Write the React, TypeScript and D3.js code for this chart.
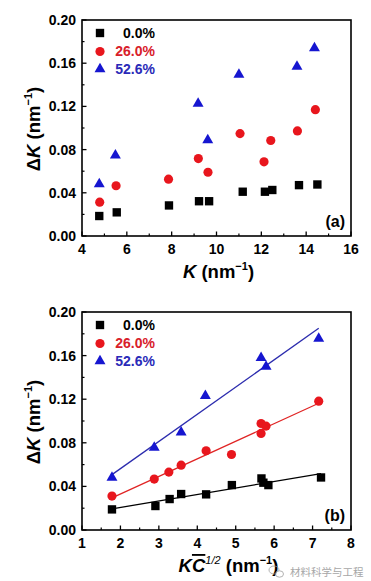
import React from "react";
import * as d3 from "d3";

// ---------- Data ----------
const seriesNames = ["0.0%", "26.0%", "52.6%"];

// Panel (a): ΔK vs K
const kBlack = [4.77, 5.55, 7.88, 9.22, 9.67, 11.17, 12.16, 12.49, 13.68, 14.5];
const dkBlackA = [0.0185, 0.0219, 0.0283, 0.0322, 0.0322, 0.041, 0.041, 0.0426, 0.0471, 0.0477];
const kRed = [4.79, 5.52, 7.86, 9.19, 9.62, 11.05, 12.12, 12.42, 13.61, 14.41];
const dkRedA = [0.0313, 0.0465, 0.0526, 0.0717, 0.059, 0.0948, 0.0687, 0.0884, 0.0973, 0.117];
const kBlue = [4.77, 5.49, 9.18, 9.61, 11.0, 13.59, 14.37];
const dkBlueA = [0.048, 0.0748, 0.1225, 0.0888, 0.1495, 0.1568, 0.174];

// Panel (b): ΔK vs KC^1/2
const kcBlack = [1.78, 2.91, 3.28, 3.58, 4.23, 4.9, 5.67, 5.72, 5.85, 7.22];
const dkBlackB = [0.0189, 0.022, 0.0284, 0.033, 0.0327, 0.0412, 0.0473, 0.0434, 0.0412, 0.0482];
const kcRed = [1.78, 2.88, 3.26, 3.58, 4.23, 4.89, 5.66, 5.66, 5.79, 7.16];
const dkRedB = [0.0311, 0.0467, 0.0531, 0.0595, 0.0727, 0.0693, 0.0977, 0.0886, 0.0953, 0.1182];
const kcBlue = [1.78, 2.88, 3.58, 4.21, 5.66, 5.79, 7.16];
const dkBlueB = [0.048, 0.0757, 0.0895, 0.123, 0.158, 0.15, 0.1756];

const xTicksA = [4, 6, 8, 10, 12, 14, 16];
const xTicksB = [1, 2, 3, 4, 5, 6, 7, 8];
const yTicks = [0, 0.04, 0.08, 0.12, 0.16, 0.2];

// ---------- Styles ----------
const FONT = "'Liberation Sans', Arial, sans-serif";
const markerColors = ["#000000", "#e8161d", "#1616d0"];
const textColors = ["#000000", "#d8202a", "#2a2ab8"];
const lineColors = ["#000000", "#e02424", "#2c2cae"];
const shapes = ["square", "circle", "triangle"];

function symbolPath(shape: string) {
  const t =
    shape === "square" ? d3.symbolSquare : shape === "circle" ? d3.symbolCircle : d3.symbolTriangle;
  const size = shape === "square" ? 70 : shape === "circle" ? 66 : 52;
  return d3.symbol().type(t).size(size)() as string;
}

function linReg(xs: number[], ys: number[]) {
  const mx = d3.mean(xs) as number;
  const my = d3.mean(ys) as number;
  let sxy = 0,
    sxx = 0;
  xs.forEach((x, i) => {
    sxy += (x - mx) * (ys[i] - my);
    sxx += (x - mx) * (x - mx);
  });
  const b = sxy / sxx;
  return (x: number) => my + b * (x - mx);
}

type PanelProps = {
  top: number;
  bottom: number;
  xDomain: [number, number];
  xTicks: number[];
  xMinorStep: number;
  series: { x: number[]; y: number[] }[];
  fit: boolean;
  tag: string;
  xTitle: React.ReactNode;
  xTitleX: number;
};

function Panel(p: PanelProps) {
  const left = 82,
    right = 351;
  const x = d3.scaleLinear().domain(p.xDomain).range([left, right]);
  const y = d3.scaleLinear().domain([0, 0.2]).range([p.bottom, p.top]);
  const xMinor = d3.range(p.xDomain[0] + p.xMinorStep, p.xDomain[1], p.xMinorStep * 2);
  const yMinor = d3.range(0.02, 0.2, 0.04);
  const majorLen = 4.5,
    minorLen = 2.5;
  const legY = [13, 31.5, 49];
  const legTextY = [18, 36.3, 53.8];
  const midY = (p.top + p.bottom) / 2 + 1;
  return (
    <g fontFamily={FONT} fontWeight="bold">
      {/* frame */}
      <rect x={left} y={p.top} width={right - left} height={p.bottom - p.top} fill="none" stroke="#000" strokeWidth={1.6} />
      {/* x ticks */}
      {p.xTicks.map((t) => (
        <g key={"xt" + t}>
          <line x1={x(t)} x2={x(t)} y1={p.bottom} y2={p.bottom - majorLen} stroke="#000" strokeWidth={1.3} />
          <text x={x(t)} y={p.bottom + 18} textAnchor="middle" fontSize={14}>
            {t}
          </text>
        </g>
      ))}
      {xMinor.map((t) => (
        <line key={"xm" + t} x1={x(t)} x2={x(t)} y1={p.bottom} y2={p.bottom - minorLen} stroke="#000" strokeWidth={1.2} />
      ))}
      {/* y ticks */}
      {yTicks.map((t) => (
        <g key={"yt" + t}>
          <line x1={left} x2={left + majorLen} y1={y(t)} y2={y(t)} stroke="#000" strokeWidth={1.3} />
          <text x={left - 6} y={y(t) + 5} textAnchor="end" fontSize={14}>
            {d3.format(".2f")(t)}
          </text>
        </g>
      ))}
      {yMinor.map((t) => (
        <line key={"ym" + t} x1={left} x2={left + minorLen} y1={y(t)} y2={y(t)} stroke="#000" strokeWidth={1.2} />
      ))}
      {/* y title */}
      <text transform={`translate(40,${midY}) rotate(-90)`} textAnchor="middle" fontSize={18.5}>
        <tspan>Δ</tspan>
        <tspan fontStyle="italic">K</tspan>
        <tspan> (nm</tspan>
        <tspan fontSize={11} dy={-8}>−1</tspan>
        <tspan dy={8}>)</tspan>
      </text>
      {/* x title */}
      <text x={p.xTitleX} y={p.bottom + 42} textAnchor="middle" fontSize={18.5}>
        {p.xTitle}
      </text>
      {/* fit lines */}
      {p.fit &&
        p.series.map((s, i) => {
          const f = linReg(s.x, s.y);
          const ext = d3.extent(s.x) as [number, number];
          const line = d3
            .line<number>()
            .x((d) => x(d))
            .y((d) => y(f(d)));
          return <path key={"fit" + i} d={line(ext) as string} stroke={lineColors[i]} strokeWidth={1.3} fill="none" />;
        })}
      {/* markers */}
      {p.series.map((s, i) =>
        s.x.map((xv, j) => (
          <path
            key={`m${i}-${j}`}
            d={symbolPath(shapes[i])}
            transform={`translate(${x(xv)},${y(s.y[j])})`}
            fill={markerColors[i]}
          />
        ))
      )}
      {/* legend */}
      {seriesNames.map((n, i) => (
        <g key={"leg" + i}>
          <path d={symbolPath(shapes[i])} transform={`translate(100,${p.top + legY[i]})`} fill={markerColors[i]} />
          <text x={155} y={p.top + legTextY[i]} textAnchor="end" fontSize={14} fill={textColors[i]}>
            {n}
          </text>
        </g>
      ))}
      {/* tag */}
      <text x={345} y={p.bottom - 9} textAnchor="end" fontSize={16}>
        {p.tag}
      </text>
    </g>
  );
}

export default function App() {
  return (
    <div style={{ position: "absolute", left: 0, top: 0 }}>
      <svg width={371} height={581} viewBox="0 0 371 581" style={{ display: "block", background: "#fff" }}>
        <Panel
          top={20}
          bottom={236}
          xDomain={[4, 16]}
          xTicks={xTicksA}
          xMinorStep={1}
          series={[
            { x: kBlack, y: dkBlackA },
            { x: kRed, y: dkRedA },
            { x: kBlue, y: dkBlueA },
          ]}
          fit={false}
          tag="(a)"
          xTitleX={218.5}
          xTitle={
            <>
              <tspan fontStyle="italic">K</tspan>
              <tspan> (nm</tspan>
              <tspan fontSize={11} dy={-8}>−1</tspan>
              <tspan dy={8}>)</tspan>
            </>
          }
        />
        <Panel
          top={312}
          bottom={530}
          xDomain={[1, 8]}
          xTicks={xTicksB}
          xMinorStep={0.5}
          series={[
            { x: kcBlack, y: dkBlackB },
            { x: kcRed, y: dkRedB },
            { x: kcBlue, y: dkBlueB },
          ]}
          fit={true}
          tag="(b)"
          xTitleX={228.5}
          xTitle={
            <>
              <tspan fontStyle="italic">K</tspan>
              <tspan fontStyle="italic" style={{ textDecoration: "overline" }}>C</tspan>
              <tspan fontSize={11} fontStyle="italic" fontWeight="normal" dy={-8}>1/2</tspan>
              <tspan dy={8}> (nm</tspan>
              <tspan fontSize={11} dy={-8}>−1</tspan>
              <tspan dy={8}>)</tspan>
            </>
          }
        />
        {/* watermark */}
        <g opacity={0.75}>
          <ellipse cx={274} cy={570} rx={5} ry={4} fill="none" stroke="#9a9a9a" strokeWidth={1} />
          <ellipse cx={279.5} cy={574} rx={4} ry={3.2} fill="#fff" stroke="#9a9a9a" strokeWidth={1} />
          <text x={290} y={576} fontSize={10.5} fill="#8a8a8a" fontFamily="'Noto Sans CJK SC', sans-serif">
            材料科学与工程
          </text>
        </g>
      </svg>
    </div>
  );
}
